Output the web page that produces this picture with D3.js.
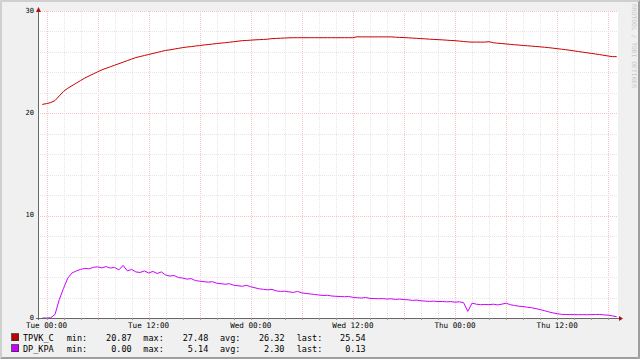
<!DOCTYPE html>
<html>
<head>
<meta charset="utf-8">
<script src="https://cdn.jsdelivr.net/npm/d3@7"></script>
<style>
html,body{margin:0;padding:0;background:#f0f0f0;}
svg{display:block;}
text{font-family:"DejaVu Sans Mono",monospace;}
</style>
</head>
<body>
<svg id="chart" width="640" height="359"></svg>
<script>
// ---- data ----
const startHour = -0.5;      // first sample, hours relative to Tue 00:00
const stepHours = 0.5;       // sample spacing
const tpvkC = [
20.87,20.95,21.05,21.25,21.7,22.15,22.45,22.7,22.95,23.2,23.45,23.65,23.85,24.05,24.25,24.4,24.55,24.7,24.85,25.0,
25.15,25.3,25.45,25.55,25.65,25.75,25.85,25.95,26.05,26.15,26.2,26.28,26.35,26.42,26.48,26.52,26.58,26.62,26.68,26.72,
26.77,26.82,26.86,26.9,26.95,27.0,27.05,27.1,27.12,27.15,27.18,27.2,27.22,27.25,27.3,27.32,27.34,27.36,27.38,27.39,
27.39,27.39,27.39,27.39,27.39,27.39,27.39,27.39,27.39,27.39,27.39,27.39,27.39,27.39,27.48,27.47,27.47,27.47,27.47,27.47,
27.47,27.47,27.47,27.44,27.42,27.40,27.38,27.35,27.33,27.30,27.28,27.25,27.22,27.2,27.18,27.15,27.12,27.1,27.06,27.02,
26.98,26.96,26.96,26.96,26.96,27.0,26.9,26.85,26.82,26.78,26.74,26.7,26.67,26.63,26.6,26.57,26.53,26.5,26.46,26.42,
26.37,26.32,26.27,26.22,26.16,26.1,26.04,25.98,25.92,25.86,25.8,25.74,25.67,25.6,25.54,25.54
];
const dpKpa = [
0.00,0.00,0.02,0.35,1.8,2.9,3.9,4.4,4.6,4.75,4.85,4.8,4.95,5.0,4.9,5.02,4.88,4.95,4.7,5.14,
4.6,4.75,4.5,4.45,4.6,4.4,4.55,4.35,4.5,4.2,4.1,4.15,3.95,3.9,3.8,3.85,3.65,3.6,3.55,3.5,
3.55,3.4,3.35,3.3,3.35,3.2,3.15,3.1,3.2,3.05,2.95,2.85,2.8,2.75,2.8,2.65,2.6,2.62,2.55,2.5,
2.6,2.45,2.4,2.35,2.3,2.25,2.2,2.22,2.15,2.12,2.1,2.08,2.1,2.02,1.98,1.95,2.0,1.92,1.9,1.88,
1.9,1.85,1.88,1.82,1.85,1.8,1.78,1.72,1.75,1.68,1.65,1.62,1.65,1.6,1.62,1.58,1.6,1.55,1.58,1.5,
0.65,1.45,1.35,1.3,1.32,1.3,1.35,1.28,1.35,1.45,1.3,1.22,1.15,1.12,1.05,1.0,0.92,0.82,0.72,0.6,
0.5,0.42,0.36,0.34,0.33,0.33,0.32,0.33,0.32,0.33,0.34,0.35,0.3,0.28,0.2,0.13
];
const seriesNames = ["TPVK_C","DP_KPA"];
const seriesColors = ["#cc0000","#cc00ff"];
const legendMin = ["20.87","0.00"];
const legendMax = ["27.48","5.14"];
const legendAvg = ["26.32","2.30"];
const legendLast = ["25.54","0.13"];
const xTickHours = [0,12,24,36,48,60];
const xTickLabels = ["Tue 00:00","Tue 12:00","Wed 00:00","Wed 12:00","Thu 00:00","Thu 12:00"];
const yTicks = [0,10,20,30];
const watermark = "RRDTOOL / TOBI OETIKER";

// ---- layout ----
const W = 640, H = 359;
const L = 38, R = 618, T = 11, B = 318;
const svg = d3.select("#chart");

const x = d3.scaleLinear().domain([-1, 67.15]).range([L, R]);
const y = d3.scaleLinear().domain([0, 30]).range([B, T]);

// background + frame
svg.append("rect").attr("x",0).attr("y",0).attr("width",W).attr("height",H).attr("fill","#f0f0f0");
svg.append("rect").attr("x",L).attr("y",T).attr("width",R-L).attr("height",B-T).attr("fill","#ffffff");
svg.append("path").attr("d",`M0.5,${H-0.5}V0.5H${W-0.5}`).attr("stroke","#cfcfcf").attr("fill","none");
svg.append("path").attr("d",`M1.5,${H-1.5}V1.5H${W-1.5}`).attr("stroke","#cfcfcf").attr("fill","none");
svg.append("path").attr("d",`M0.5,${H-0.5}H${W-0.5}V0.5`).attr("stroke","#9e9e9e").attr("fill","none");
svg.append("path").attr("d",`M1.5,${H-1.5}H${W-1.5}V1.5`).attr("stroke","#9e9e9e").attr("fill","none");

const grid = svg.append("g").attr("shape-rendering","crispEdges");
const minorH = d3.range(0, 67.15, 2);
minorH.forEach(h => {
  const major = h % 6 === 0;
  const px = Math.round(x(h)) + 0.5;
  grid.append("line").attr("x1",px).attr("x2",px).attr("y1",T).attr("y2",B)
    .attr("stroke", major ? "#f6c4c4" : "#e6e6e6").attr("stroke-dasharray","1,1");
});
d3.range(2, 31, 2).forEach(v => {
  const major = v % 10 === 0;
  const py = Math.round(y(v)) + 0.5;
  grid.append("line").attr("x1",L).attr("x2",R).attr("y1",py).attr("y2",py)
    .attr("stroke", major ? "#f6c4c4" : "#e6e6e6").attr("stroke-dasharray","1,1");
});

// lines
const hourOf = i => startHour + i*stepHours;
const lineGen = d3.line().x((d,i)=>x(hourOf(i))).y(d=>y(d));
svg.append("path").datum(tpvkC).attr("d",lineGen).attr("fill","none")
  .attr("stroke",seriesColors[0]).attr("stroke-width",1);
svg.append("path").datum(dpKpa).attr("d",lineGen).attr("fill","none")
  .attr("stroke",seriesColors[1]).attr("stroke-width",1);

// axes
const axes = svg.append("g").attr("shape-rendering","crispEdges");
axes.append("line").attr("x1",L+0.5).attr("x2",L+0.5).attr("y1",B+2).attr("y2",T-1).attr("stroke","#666");
axes.append("line").attr("x1",L-2).attr("x2",R+2).attr("y1",B+0.5).attr("y2",B+0.5).attr("stroke","#666");
minorH.forEach(h => {
  const px = Math.round(x(h)) + 0.5;
  axes.append("line").attr("x1",px).attr("x2",px).attr("y1",B).attr("y2",B+2).attr("stroke","#999");
});
svg.append("path").attr("d",`M${R+1},${B-2}L${R+5},${B+0.5}L${R+1},${B+3}Z`).attr("fill","#b01010");
svg.append("path").attr("d",`M${L-2},${T+1}L${L+0.5},${T-4}L${L+3},${T+1}Z`).attr("fill","#b01010");

// axis labels
svg.append("g").selectAll("text").data(yTicks).join("text")
  .attr("x",34).attr("y",d=>y(d)-0.8).attr("dy","0.35em").attr("text-anchor","end")
  .attr("font-size",7).attr("fill","#000").text(d=>d);
svg.append("g").selectAll("text").data(xTickHours).join("text")
  .attr("x",d=>x(d)).attr("y",328).attr("text-anchor","middle")
  .attr("font-size",7.6).attr("fill","#000").text((d,i)=>xTickLabels[i]);

// legend
const rows = [338.3, 349];
seriesNames.forEach((name,i) => {
  const cy = rows[i];
  svg.append("rect").attr("x",11.5).attr("y",cy-4.5).attr("width",7).attr("height",7)
    .attr("fill", i===0 ? "#c00000" : seriesColors[1]).attr("stroke","#333").attr("stroke-width",0.8)
    .attr("shape-rendering","crispEdges");
  const g = svg.append("g").attr("font-size",8.5).attr("fill","#000");
  const t = (tx, s, anchor) => g.append("text").attr("x",tx).attr("y",cy).attr("dy","0.35em")
    .attr("text-anchor",anchor||"start").text(s);
  t(23, name);
  t(66.7, "min:");  t(131.7, legendMin[i], "end");
  t(143.3, "max:"); t(208.3, legendMax[i], "end");
  t(220, "avg:");   t(284.5, legendAvg[i], "end");
  t(296.7, "last:");t(365.7, legendLast[i], "end");
});

// watermark
svg.append("text").attr("transform","translate(632,4) rotate(90)")
  .attr("font-size",6.3).attr("fill","#c8c8c8").attr("textLength",84)
  .attr("lengthAdjust","spacingAndGlyphs").text(watermark);
</script>
</body>
</html>
